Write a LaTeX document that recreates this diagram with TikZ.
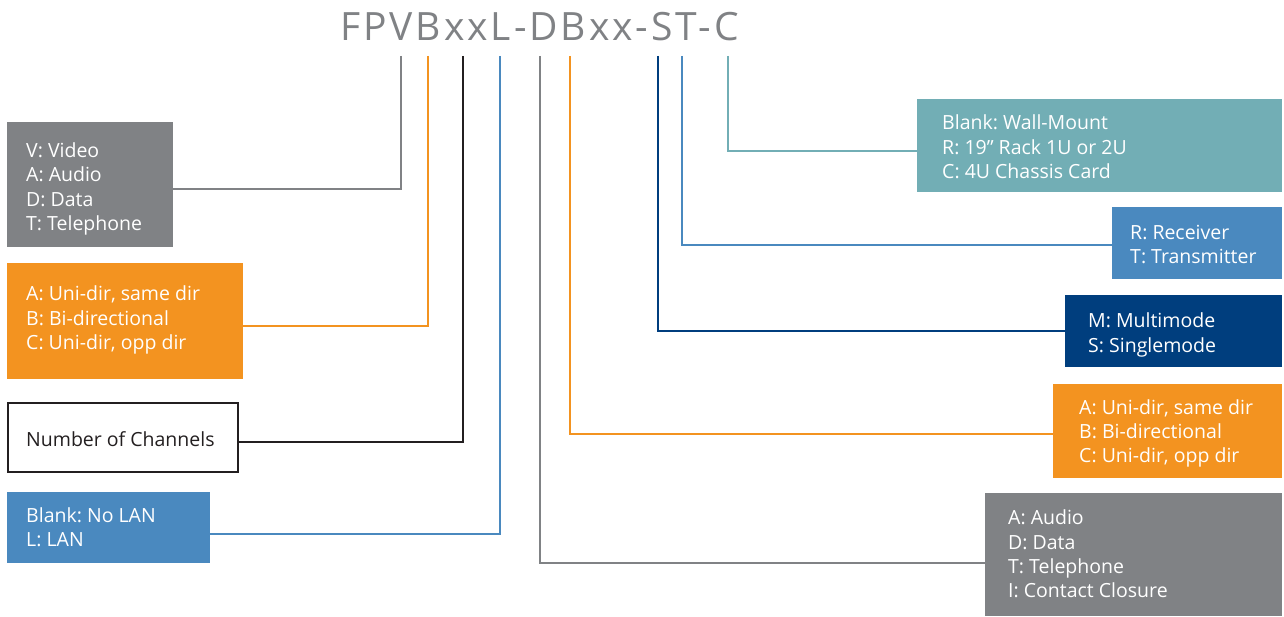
\documentclass[tikz,border=0pt]{standalone}
\usepackage{fontspec}
\setmainfont{Open Sans}
\newfontfamily\titlefont[LetterSpace=7.5]{Open Sans}
\frenchspacing
\definecolor{cgray}{HTML}{808285}
\definecolor{corange}{HTML}{F39320}
\definecolor{cteal}{HTML}{72AEB5}
\definecolor{cblue}{HTML}{4A89BF}
\definecolor{cdblue}{HTML}{003E7E}
\definecolor{cblack}{HTML}{231F20}
\tikzset{
  panel/.style={anchor=north west, inner sep=0pt, outer sep=0pt},
  legend/.style={anchor=west, align=left, inner sep=0pt, text=white,
    font=\fontsize{19.5}{24.3}\selectfont},
  wire/.style={line width=2pt},
}
\begin{document}
\begin{tikzpicture}[x=1pt,y=-1pt]
\useasboundingbox (0,0) rectangle (1284,617);
\node[anchor=base, text=cgray, font=\titlefont\fontsize{39}{40}\selectfont] (title) at (539.5,41) {FPVBxxL-DBxx-ST-C};
% tap points under the code
\coordinate (c1) at (401,56);
\coordinate (c2) at (428,56);
\coordinate (c3) at (463,56);
\coordinate (c4) at (500,56);
\coordinate (c5) at (540,56);
\coordinate (c6) at (570,56);
\coordinate (c7) at (658,56);
\coordinate (c8) at (682,56);
\coordinate (c9) at (728,56);
% left panels
\node[panel, fill=cgray, minimum width=166pt, minimum height=125pt] (gv) at (7,122) {};
\node[legend] (gvt) at ([xshift=19pt, yshift=-4.5pt]gv.west)
  {V: Video\\A: Audio\\D: Data\\T: Telephone};
\node[panel, fill=corange, minimum width=236pt, minimum height=116pt] (ol) at (7,263) {};
\node[legend] (olt) at ([xshift=19pt, yshift=1pt]ol.west)
  {A: Uni-dir, same dir\\B: Bi-directional\\C: Uni-dir, opp dir};
\node[panel, draw=cblack, line width=2pt, minimum width=230pt, minimum height=69pt] (nc) at (8,403) {};
\node[legend, text=cblack] (nct) at ([xshift=18pt, yshift=-2pt]nc.west)
  {Number of Channels};
\node[panel, fill=cblue, minimum width=203pt, minimum height=71pt] (lan) at (7,492) {};
\node[legend] (lant) at ([xshift=19pt, yshift=0pt]lan.west)
  {Blank: No LAN\\L: LAN};
% right panels
\node[panel, fill=cteal, minimum width=365pt, minimum height=93pt] (mt) at (917,99) {};
\node[legend] (mtt) at ([xshift=25pt, yshift=-1.5pt]mt.west)
  {Blank: Wall-Mount\\R: 19” Rack 1U or 2U\\C: 4U Chassis Card};
\node[panel, fill=cblue, minimum width=170pt, minimum height=72pt] (rt) at (1112,207) {};
\node[legend] (rtt) at ([xshift=18pt, yshift=-1.5pt]rt.west)
  {R: Receiver\\T: Transmitter};
\node[panel, fill=cdblue, minimum width=217pt, minimum height=72pt] (ms) at (1065,295) {};
\node[legend] (mst) at ([xshift=23pt, yshift=-4pt]ms.west)
  {M: Multimode\\S: Singlemode};
\node[panel, fill=corange, minimum width=229pt, minimum height=94pt] (or) at (1053,384) {};
\node[legend] (ort) at ([xshift=26pt, yshift=-2.5pt]or.west)
  {A: Uni-dir, same dir\\B: Bi-directional\\C: Uni-dir, opp dir};
\node[panel, fill=cgray, minimum width=297pt, minimum height=123pt] (gr) at (985,493) {};
\node[legend] (grt) at ([xshift=23pt, yshift=0.5pt]gr.west)
  {A: Audio\\D: Data\\T: Telephone\\I: Contact Closure};
% connectors
\draw[wire, cgray] (c1) |- ([yshift=-4.5pt]gv.east);
\draw[wire, corange] (c2) |- ([yshift=-5pt]ol.east);
\draw[wire, cblack] (c3) |- ([yshift=-4.5pt]nc.east);
\draw[wire, cblue] (c4) |- ([yshift=-6.5pt]lan.east);
\draw[wire, cgray] (c5) |- ([yshift=-8.5pt]gr.west);
\draw[wire, corange] (c6) |- ([yshift=-3pt]or.west);
\draw[wire, cdblue] (c7) |- (ms.west);
\draw[wire, cblue] (c8) |- ([yshift=-2pt]rt.west);
\draw[wire, cteal] (c9) |- ([yshift=-5.5pt]mt.west);
\end{tikzpicture}
\end{document}
